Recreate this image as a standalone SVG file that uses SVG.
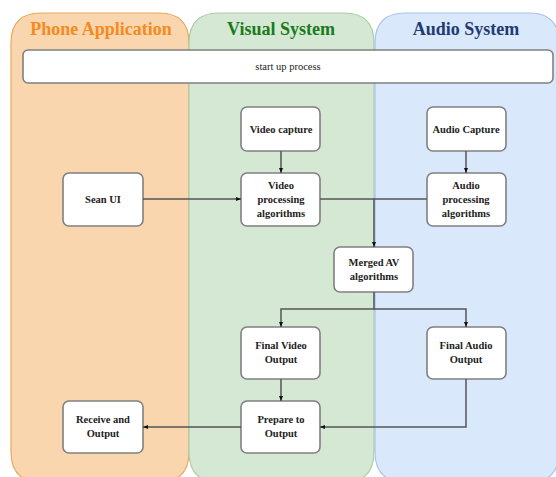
<svg xmlns="http://www.w3.org/2000/svg" width="556" height="477" viewBox="0 0 556 477">
<style>
.node rect{fill:#fff;stroke:#808080;stroke-width:1.6}
.node text{font-family:'Liberation Serif','Times New Roman',serif;font-weight:bold;font-size:10.5px;fill:#222;text-anchor:middle}
.title{font-family:'Liberation Serif','Times New Roman',serif;font-weight:bold;font-size:18px;text-anchor:middle}
.conn path{fill:none;stroke:#555;stroke-width:1.5}
</style>
<defs>
<marker id="arr" viewBox="0 0 10 10" refX="10" refY="5" markerWidth="5" markerHeight="5" orient="auto" markerUnits="userSpaceOnUse">
<path d="M0,1 L10,5 L0,9 z" fill="#111"/>
</marker>
</defs>
<rect width="556" height="477" fill="#fff"/>
<g id="lane-phone">
<path d="M11,452 V43 Q11,13 41,13 H159 Q189,13 189,43 V452 Q189,482 159,482 H41 Q11,482 11,452 Z" fill="#f9d6ad" stroke="#e8a860" stroke-width="1.2"/>
<text class="title" x="101" y="35" fill="#f58a1f">Phone Application</text>
</g>
<g id="lane-visual">
<path d="M189,452 V43 Q189,13 219,13 H344 Q374,13 374,43 V452 Q374,482 344,482 H219 Q189,482 189,452 Z" fill="#d5e8d4" stroke="#a8cda6" stroke-width="1.2"/>
<text class="title" x="281" y="35" fill="#1a7a1a">Visual System</text>
</g>
<g id="lane-audio">
<path d="M375,452 V43 Q375,13 405,13 H529 Q559,13 559,43 V452 Q559,482 529,482 H405 Q375,482 375,452 Z" fill="#dae8fc" stroke="#a9c4eb" stroke-width="1.2"/>
<text class="title" x="466" y="35" fill="#1f3b73">Audio System</text>
</g>
<g id="startup" class="node">
<rect x="23" y="50" width="530" height="33" rx="5"/>
<text x="288" y="70" style="font-weight:normal">start up process</text>
</g>
<g id="video-capture" class="node">
<rect x="241" y="107" width="79" height="44" rx="6"/>
<text x="281" y="133">Video capture</text>
</g>
<g id="audio-capture" class="node">
<rect x="427" y="107" width="79" height="44" rx="6"/>
<text x="466" y="133">Audio Capture</text>
</g>
<g id="sean-ui" class="node">
<rect x="63" y="173" width="80" height="53" rx="6"/>
<text x="103" y="203">Sean UI</text>
</g>
<g id="video-proc" class="node">
<rect x="241" y="173" width="79" height="53" rx="6"/>
<text x="281" y="189">Video</text>
<text x="281" y="203">processing</text>
<text x="281" y="217">algorithms</text>
</g>
<g id="audio-proc" class="node">
<rect x="427" y="173" width="79" height="53" rx="6"/>
<text x="466" y="189">Audio</text>
<text x="466" y="203">processing</text>
<text x="466" y="217">algorithms</text>
</g>
<g id="merged" class="node">
<rect x="334" y="247" width="79" height="45" rx="6"/>
<text x="374" y="266">Merged AV</text>
<text x="374" y="280">algorithms</text>
</g>
<g id="final-video" class="node">
<rect x="241" y="327" width="79" height="52" rx="6"/>
<text x="281" y="349">Final Video</text>
<text x="281" y="363">Output</text>
</g>
<g id="final-audio" class="node">
<rect x="427" y="327" width="79" height="52" rx="6"/>
<text x="466" y="349">Final Audio</text>
<text x="466" y="363">Output</text>
</g>
<g id="prepare" class="node">
<rect x="241" y="401" width="79" height="52" rx="6"/>
<text x="281" y="423">Prepare to</text>
<text x="281" y="437">Output</text>
</g>
<g id="receive" class="node">
<rect x="63" y="401" width="80" height="52" rx="6"/>
<text x="103" y="423">Receive and</text>
<text x="103" y="437">Output</text>
</g>
<g id="connectors" class="conn">
<path d="M281,151 V173" marker-end="url(#arr)"/>
<path d="M466,151 V173" marker-end="url(#arr)"/>
<path d="M143,199 H241" marker-end="url(#arr)"/>
<path d="M320,199 H374 V247" marker-end="url(#arr)"/>
<path d="M427,199 H374"/>
<path d="M374,292 V309 H281 V327" marker-end="url(#arr)"/>
<path d="M374,309 H466 V327" marker-end="url(#arr)"/>
<path d="M281,379 V401" marker-end="url(#arr)"/>
<path d="M466,379 V427 H320" marker-end="url(#arr)"/>
<path d="M241,427 H143" marker-end="url(#arr)"/>
</g>
</svg>
